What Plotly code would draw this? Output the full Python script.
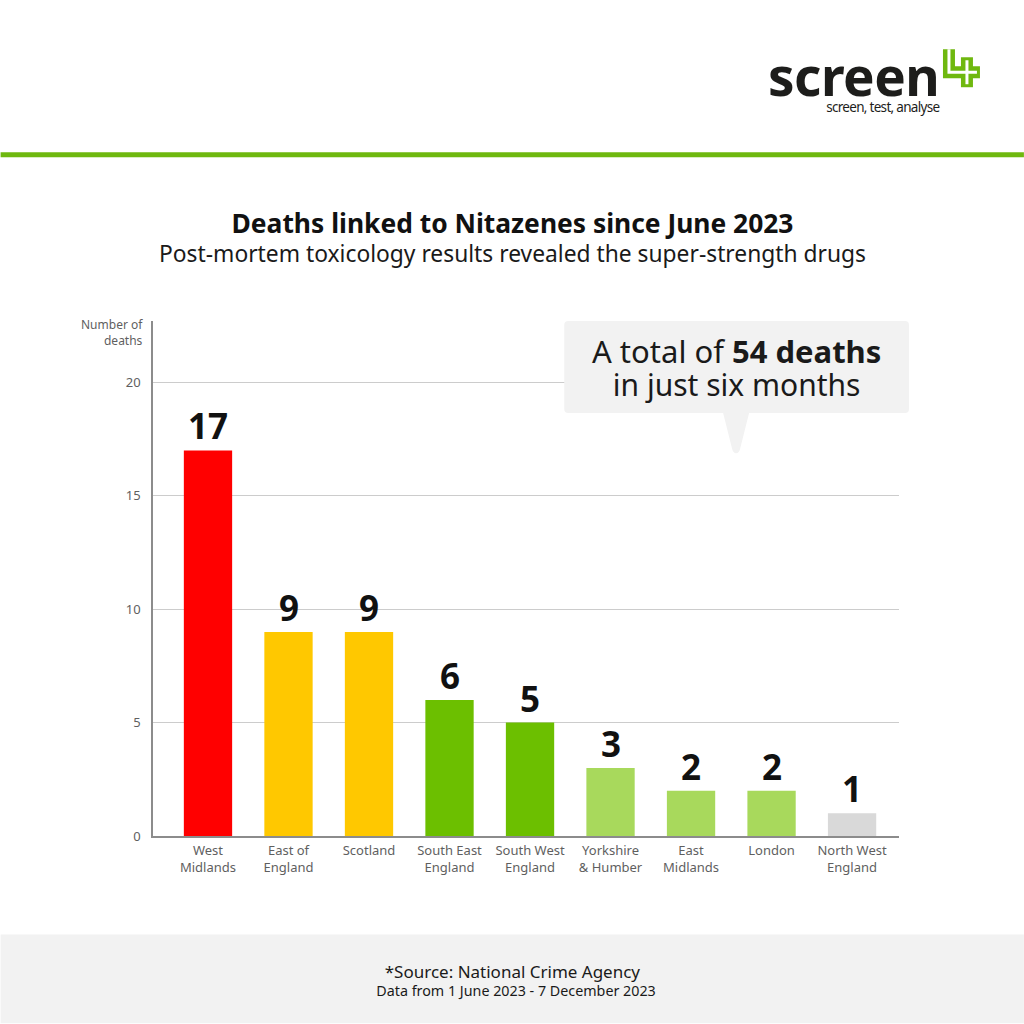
import plotly.graph_objects as go

# values
regions = ["West<br>Midlands", "East of<br>England", "Scotland", "South East<br>England", "South West<br>England",
           "Yorkshire<br>& Humber", "East<br>Midlands", "London", "North West<br>England"]
deaths = [17, 9, 9, 6, 5, 3, 2, 2, 1]
bar_colours = ["#ff0000", "#ffc800", "#ffc800", "#6cbf00", "#6cbf00", "#a8d95c", "#a8d95c", "#a8d95c", "#d9d9d9"]
y_ticks = [0, 5, 10, 15, 20]

FONT = "Noto Sans"
DARK = "#1a1a1a"
GREY = "#5f5f5f"
GREEN = "#6fb80f"
PANEL = "#f2f2f2"

# plot area in page pixels
L, R, T, B = 152.5, 899, 321, 836.5


def px(x):
    return (x - L) / (R - L)


def py(y):
    return (B - y) / (B - T)


def P(x, y):
    return "%.5f,%.5f" % (px(x), py(y))


def box(x0, y0, x1, y1, colour):
    return dict(type="rect", xref="paper", yref="paper", x0=px(x0), x1=px(x1), y0=py(y0), y1=py(y1),
                fillcolor=colour, line_width=0, layer="above")


def stroke(path, colour, width):
    return dict(type="path", xref="paper", yref="paper", path=path, line=dict(color=colour, width=width), layer="above")


def label(x, y, text, size, colour=DARK, anchor="center", family=FONT):
    return dict(xref="paper", yref="paper", x=px(x), y=py(y), text=text, showarrow=False, xanchor=anchor,
                yanchor="middle", align=anchor, font=dict(family=family, size=size, color=colour),
                borderpad=0, borderwidth=0)


fig = go.Figure(go.Bar(
    x=list(range(len(deaths))),
    y=deaths,
    width=0.6,
    marker=dict(color=bar_colours, line_width=0),
    cliponaxis=False,
))

# callout box with rounded corners and its tail
r = 4
callout_path = ("M " + P(564 + r, 321) + " L " + P(909 - r, 321) + " Q " + P(909, 321) + " " + P(909, 321 + r)
                + " L " + P(909, 413 - r) + " Q " + P(909, 413) + " " + P(909 - r, 413)
                + " L " + P(749, 413) + " L " + P(740, 449) + " Q " + P(739, 453.5) + " " + P(736, 453.5)
                + " Q " + P(733, 453.5) + " " + P(732, 449) + " L " + P(723, 413)
                + " L " + P(564 + r, 413) + " Q " + P(564, 413) + " " + P(564, 413 - r)
                + " L " + P(564, 321 + r) + " Q " + P(564, 321) + " " + P(564 + r, 321) + " Z")

logo_l = "M " + P(949, 49) + " L " + P(949, 72) + " L " + P(980, 72)
logo_v = "M " + P(967, 57) + " L " + P(967, 87)
logo_l_in = "M " + P(949, 49) + " L " + P(949, 72) + " L " + P(977, 72)
logo_v_in = "M " + P(967, 60) + " L " + P(967, 84)

shapes = [
    box(0, 152, 1024, 157, GREEN),
    box(0, 935, 1024, 1024, PANEL),
    dict(type="path", xref="paper", yref="paper", path=callout_path, fillcolor=PANEL, line_width=0, layer="above"),
    stroke(logo_l, GREEN, 12),
    stroke(logo_v, GREEN, 12),
    stroke(logo_l_in, "white", 3),
    stroke(logo_v_in, "white", 3),
]

annotations = [
    label(512, 236.5, "<span style=\"font-size:26.4px;color:#111111\"><b>Deaths linked to Nitazenes since June 2023</b></span>"
          "<br><span style=\"font-size:22.8px\">Post-mortem toxicology results revealed the super-strength drugs</span>", 22),
    label(142, 333, "Number of<br>deaths", 12, GREY, anchor="right"),
    label(736, 368, "<span style=\"font-size:31px\">A total of <b>54 deaths</b></span>"
          "<br><span style=\"font-size:30px\">in just six months</span>", 25),
    label(512.5, 980.5, "<span style=\"font-size:17px\">*Source: National Crime Agency</span>"
          "<br>\u00a0\u00a0<span style=\"font-size:14.3px\">Data from 1 June 2023 - 7 December 2023</span>", 14),
    label(939, 77, "<span style=\"font-size:53px;letter-spacing:-0.5px\"><b>screen</b></span>"
          "<br><span style=\"font-size:13.5px;letter-spacing:-0.7px\">screen, test, analyse</span>", 12.5, "#1d1d1b",
          anchor="right"),
]

# value labels above the bars
for i, d in enumerate(deaths):
    annotations.append(dict(x=i, y=d, xref="x", yref="y", text="<b>%d</b>" % d, showarrow=False, yanchor="bottom",
                            yshift=-1, font=dict(family=FONT, size=35, color="#111111")))

fig.update_layout(
    width=1024,
    height=1024,
    autosize=False,
    margin=dict(l=L, r=1024 - R, t=T, b=1024 - B, pad=0),
    paper_bgcolor="white",
    plot_bgcolor="white",
    showlegend=False,
    shapes=shapes,
    annotations=annotations,
    font=dict(family=FONT, color=GREY),
    xaxis=dict(
        range=[-0.683, 8.583],
        tickmode="array",
        tickvals=list(range(len(regions))),
        ticktext=regions,
        tickfont=dict(family=FONT, size=13, color=GREY),
        ticks="outside",
        ticklen=2,
        tickcolor="rgba(0,0,0,0)",
        showgrid=False,
        zeroline=False,
        showline=True,
        linecolor="#8c8c8c",
        linewidth=1.5,
        fixedrange=True,
    ),
    yaxis=dict(
        range=[0, 22.71],
        tickmode="array",
        tickvals=y_ticks,
        tickfont=dict(family=FONT, size=13, color=GREY),
        ticks="outside",
        ticklen=8,
        tickcolor="rgba(0,0,0,0)",
        gridcolor="#cccccc",
        gridwidth=1,
        zeroline=False,
        showline=True,
        linecolor="#8c8c8c",
        linewidth=1.5,
        fixedrange=True,
    ),
)

fig.write_html("out.html", config=dict(displayModeBar=False), post_script="document.body.style.margin='0';")
